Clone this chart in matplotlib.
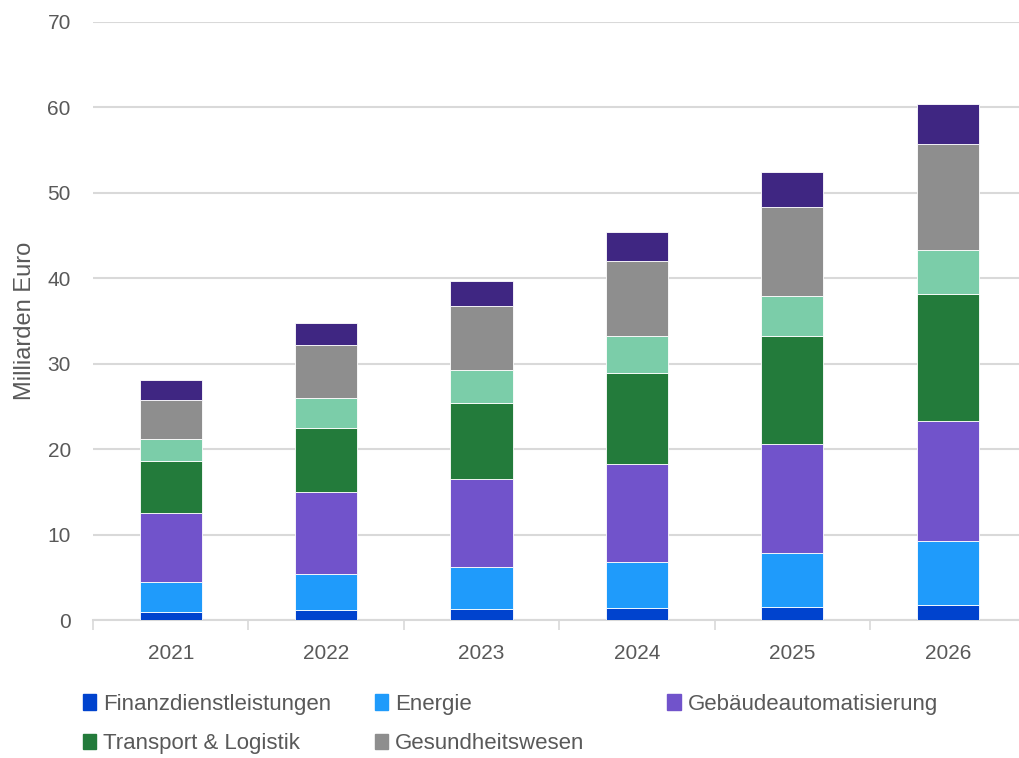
import numpy as np
import matplotlib.pyplot as plt
from matplotlib.patches import Patch

plt.rcParams['font.family'] = ['Liberation Sans', 'DejaVu Sans']

# Data (Milliarden Euro)
years = ['2021', '2022', '2023', '2024', '2025', '2026']
finanz = [0.97, 1.21, 1.33, 1.41, 1.49, 1.73]
energie = [3.45, 4.18, 4.84, 5.39, 6.33, 7.54]
gebaeude = [8.08, 9.61, 10.32, 11.5, 12.74, 14.03]
transport = [6.06, 7.43, 8.91, 10.6, 12.64, 14.85]
sonstige = [2.62, 3.57, 3.9, 4.35, 4.78, 5.2]
gesundheit = [4.62, 6.18, 7.4, 8.82, 10.42, 12.35]
rest = [2.26, 2.54, 3.0, 3.36, 4.0, 4.7]

series = [
    ('Finanzdienstleistungen', finanz, '#0043ce'),
    ('Energie', energie, '#1f9bfb'),
    ('Gebäudeautomatisierung', gebaeude, '#7153cb'),
    ('Transport & Logistik', transport, '#237b3b'),
    (None, sonstige, '#7bcda9'),
    ('Gesundheitswesen', gesundheit, '#8e8e8e'),
    (None, rest, '#3f2682'),
]

txt = '#595959'
grid = '#d9d9d9'

fig = plt.figure(figsize=(10.19, 7.58), dpi=100)
ax = fig.add_axes([0.0913, 0.182, 0.915, 0.789])

x = np.arange(len(years))
bottom = np.zeros(len(years))
for name, vals, col in series:
    ax.bar(x, vals, 0.4, bottom=bottom, color=col, edgecolor='white', linewidth=0.6, zorder=3)
    bottom += np.array(vals)

ax.set_xlim(-0.5, len(years) - 0.5)
ax.set_ylim(0, 70)
ax.set_yticks(range(0, 71, 10))
ax.set_xticks(x)
ax.set_xticklabels(years)
ax.set_xticks(np.arange(-0.5, len(years), 1), minor=True)
ax.tick_params(axis='x', which='major', length=0, pad=17, labelsize=15, labelcolor=txt)
ax.tick_params(axis='x', which='minor', length=7, width=1.2, color=grid)
ax.tick_params(axis='y', length=0, pad=16, labelsize=15, labelcolor=txt)
ax.yaxis.grid(True, color=grid, linewidth=1.5, zorder=0)
for s in ['top', 'right', 'left']:
    ax.spines[s].set_visible(False)
ax.spines['bottom'].set_color(grid)
ax.spines['bottom'].set_linewidth(1.5)
ax.set_ylabel('Milliarden Euro', fontsize=17, color=txt, labelpad=8)

# legend columns, Excel-style fixed positions
cols = [[0, 3], [1, 5], [2]]
xpos = [0.0815, 0.368, 0.655]
for idx, xp in zip(cols, xpos):
    handles = [Patch(color=series[i][2], label=series[i][0]) for i in idx]
    fig.legend(handles=handles, loc='upper left', bbox_to_anchor=(xp, 0.085),
               frameon=False, fontsize=16, labelcolor=txt, handlelength=0.6,
               handleheight=0.7, handletextpad=0.3, labelspacing=0.85,
               borderaxespad=0, borderpad=0)

fig.savefig('out.png', dpi=100)
